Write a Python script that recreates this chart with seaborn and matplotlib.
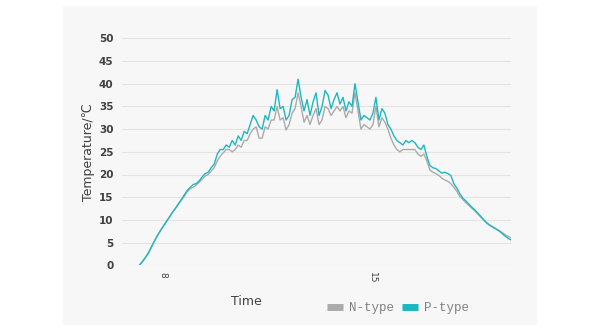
import numpy as np
import pandas as pd
import matplotlib
matplotlib.use("Agg")
import matplotlib.pyplot as plt
from matplotlib.lines import Line2D
import seaborn as sns

# ---- data (hours of day) ----
time_h = np.round(np.arange(72, 197) / 10, 1)

p_type = [
    0.0, 0.8, 1.7, 2.7, 4.0, 5.3, 6.5, 7.6, 8.6, 9.6, 10.6, 11.6, 12.5, 13.5, 14.5, 15.5,
    16.5, 17.2, 17.8, 18.0, 18.6, 19.5, 20.2, 20.5, 21.5, 22.3, 24.5, 25.5, 25.5, 26.5,
    26.0, 27.5, 26.5,
    28.5, 27.5, 29.5, 29.0, 31.0, 33.0, 32.0, 30.5, 30.0, 33.0,
    32.0, 35.0, 34.0, 38.7, 34.5, 35.0, 32.0, 33.0, 36.5, 37.0,
    41.0, 37.0, 34.0, 36.5, 33.0, 36.0, 38.0, 33.0, 35.0, 38.5,
    37.5, 34.5, 36.5, 38.0, 35.5, 37.0, 34.0, 36.0, 35.0, 40.0,
    36.0, 32.0, 33.0, 32.5, 32.0, 33.5, 37.0, 32.0, 34.5, 33.5,
    31.0, 30.0, 28.5, 27.5, 27.0, 26.5, 27.5, 27.0, 27.5,
    27.0, 26.0, 25.5, 26.5, 24.0, 22.0, 21.5, 21.3, 20.8, 20.3,
    20.5, 20.2, 19.8, 18.0, 17.0, 15.8, 14.8, 14.2, 13.5, 12.8,
    12.2, 11.5, 10.8, 10.0, 9.3, 8.8, 8.4, 8.0, 7.6, 7.1,
    6.5, 6.0, 5.6,
]

n_type = [
    0.0, 0.8, 1.7, 2.7, 4.0, 5.3, 6.5, 7.6, 8.6, 9.6, 10.6, 11.6, 12.5, 13.4, 14.3, 15.2,
    16.2, 16.9, 17.2, 17.7, 18.3, 19.0, 19.7, 20.0, 20.8, 21.5, 23.0, 24.0, 24.8, 25.5,
    25.5, 25.0, 25.5,
    26.5, 26.0, 27.5, 27.5, 29.0, 30.0, 30.5, 28.0, 28.0, 30.5,
    30.0, 32.0, 32.0, 35.0, 32.0, 32.5, 29.8, 31.0, 33.5, 34.5,
    38.0, 35.0, 31.5, 33.0, 31.0, 33.0, 34.5, 31.0, 32.0, 35.0,
    34.5, 33.0, 34.0, 35.0, 34.0, 35.0, 32.5, 34.0, 33.5, 38.0,
    34.0, 30.0, 31.0, 30.5, 30.0, 31.0, 35.0, 30.5, 32.5, 31.5,
    30.0, 28.0, 26.5, 25.5, 25.0, 25.5, 25.5, 25.5, 25.5,
    25.5, 24.5, 24.0, 24.5, 23.0, 21.0, 20.5, 20.2, 19.8, 19.2,
    18.8, 18.5, 18.0, 17.2, 16.3, 15.2, 14.5, 13.8, 13.2, 12.6,
    12.0, 11.3, 10.6, 10.0, 9.4, 8.9, 8.5, 8.1, 7.7, 7.3,
    6.8, 6.4, 6.1,
]

series_names = ["N-type", "P-type"]
y_ticks = [0, 5, 10, 15, 20, 25, 30, 35, 40, 45, 50]
x_ticks = [8, 15]
x_ticklabels = ["8", "15"]

df = pd.DataFrame({
    "Time": np.concatenate([time_h, time_h]),
    "Temperature": np.concatenate([n_type, p_type]),
    "Type": [series_names[0]] * len(time_h) + [series_names[1]] * len(time_h),
})

sns.set_theme(style="white")
plt.rcParams["font.family"] = ["DejaVu Sans"]

colors = {"N-type": "#ababab", "P-type": "#1fb7bf"}
panel_color = "#f7f7f7"
text_color = "#404040"

fig = plt.figure(figsize=(6, 3.33), dpi=100)
fig.patch.set_facecolor("white")

# light panel behind everything
bg = fig.add_axes([63 / 600, 1 - 325 / 333, (537 - 63) / 600, (325 - 6) / 333], zorder=-5)
bg.set_facecolor(panel_color)
bg.set_xticks([])
bg.set_yticks([])
for s in bg.spines.values():
    s.set_visible(False)

ax = fig.add_axes([121.7 / 600, 1 - 265.3 / 333, (510.7 - 121.7) / 600, (265.3 - 38.3) / 333],
                  zorder=1)
ax.set_facecolor("none")

sns.lineplot(data=df, x="Time", y="Temperature", hue="Type", palette=colors,
             hue_order=series_names, linewidth=1.0, ax=ax, legend=False)

ax.set_xlim(6.61, 19.6)
ax.set_ylim(0, 50)
ax.set_yticks(y_ticks)
ax.set_yticklabels([str(v) for v in y_ticks], fontsize=7.5, fontweight="bold", color=text_color)
ax.set_xticks(x_ticks)
ax.set_xticklabels(x_ticklabels, rotation=-90, fontsize=6.5, color=text_color, va="top")
ax.tick_params(axis="both", length=0)
ax.tick_params(axis="y", pad=6)
ax.tick_params(axis="x", pad=5)
ax.grid(axis="y", color="#e4e4e4", linewidth=0.8)
ax.set_axisbelow(True)
for s in ax.spines.values():
    s.set_visible(False)
ax.set_xlabel("")
ax.set_ylabel("Temperature/℃", fontsize=9, color=text_color, labelpad=3)

fig.text(246.7 / 600, 1 - 301.7 / 333, "Time", fontsize=9, color=text_color,
         ha="center", va="center")

handles = [Line2D([0], [0], color=colors[n], lw=5, solid_capstyle="butt") for n in series_names]
fig.legend(handles, series_names, loc="center", bbox_to_anchor=(398 / 600, 1 - 308.5 / 333),
           ncol=2, frameon=False, handlelength=1.3, handletextpad=0.5, columnspacing=0.6,
           prop={"family": "Liberation Mono", "size": 9}, labelcolor="#808080")

fig.savefig("out.png", dpi=100, facecolor="white")
